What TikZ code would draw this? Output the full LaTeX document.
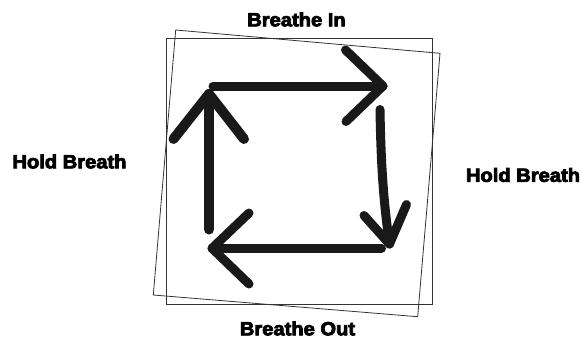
\documentclass[tikz,border=0pt]{standalone}
\usepackage{fontspec}
\setmainfont{Liberation Sans}[FakeBold=4]
\begin{document}
\begin{tikzpicture}[x=1pt,y=-1pt,
  thinbox/.style={draw=black!80, line width=0.9pt},
  fatarrow/.style={draw=black!90, line width=9pt, line cap=round, line join=round},
  lab/.style={font=\bfseries\fontsize{19}{19}\selectfont, inner sep=0pt, anchor=center, xscale=1.06}]
\useasboundingbox (0,0) rectangle (581,338);
% squares
\coordinate (s1) at (166.7,38.3);
\coordinate (s2) at (432.3,304);
\draw[thinbox] (s1) rectangle (s2);
\coordinate (r1) at (175.7,30);
\coordinate (r2) at (440,53.3);
\coordinate (r3) at (417.7,316.7);
\coordinate (r4) at (153.3,295);
\draw[thinbox, line width=0.8pt] (r1) -- (r2) -- (r3) -- (r4) -- cycle;
% top arrow
\coordinate (ta) at (213,86);
\coordinate (tb) at (383,86);
\coordinate (tw1) at (345.5,50);
\coordinate (tw2) at (346,121.5);
\draw[fatarrow] (ta) -- (tb);
\draw[fatarrow] (tw1) -- (tb) -- (tw2);
% right arrow
\coordinate (ra) at (380,109.5);
\coordinate (rb) at (389.5,244);
\coordinate (rw1) at (364,215.5);
\coordinate (rw2) at (406.5,204.5);
\draw[fatarrow] (ra) .. controls (381,170) and (384,205) .. (rb);
\draw[fatarrow] (rw1) -- (rb) -- (rw2);
% bottom arrow
\coordinate (ba) at (381.5,248.3);
\coordinate (bb) at (212,248.3);
\coordinate (bw1) at (249,213);
\coordinate (bw2) at (249,284);
\draw[fatarrow] (ba) -- (bb);
\draw[fatarrow] (bw1) -- (bb) -- (bw2);
% left arrow
\coordinate (la) at (209,229.5);
\coordinate (lb) at (209,94);
\coordinate (lw1) at (173.5,139);
\coordinate (lw2) at (244,139);
\draw[fatarrow, line width=10pt] (la) -- (lb);
\draw[fatarrow, line width=10pt] (lw1) -- (lb) -- (lw2);
% labels
\node[lab] (tin) at (296.5,19.5) {Breathe In};
\node[lab] (tout) at (297.5,328.5) {Breathe Out};
\node[lab] (hl) at (69.5,161.5) {Hold Breath};
\node[lab] (hr) at (523,175) {Hold Breath};
\end{tikzpicture}
\end{document}
